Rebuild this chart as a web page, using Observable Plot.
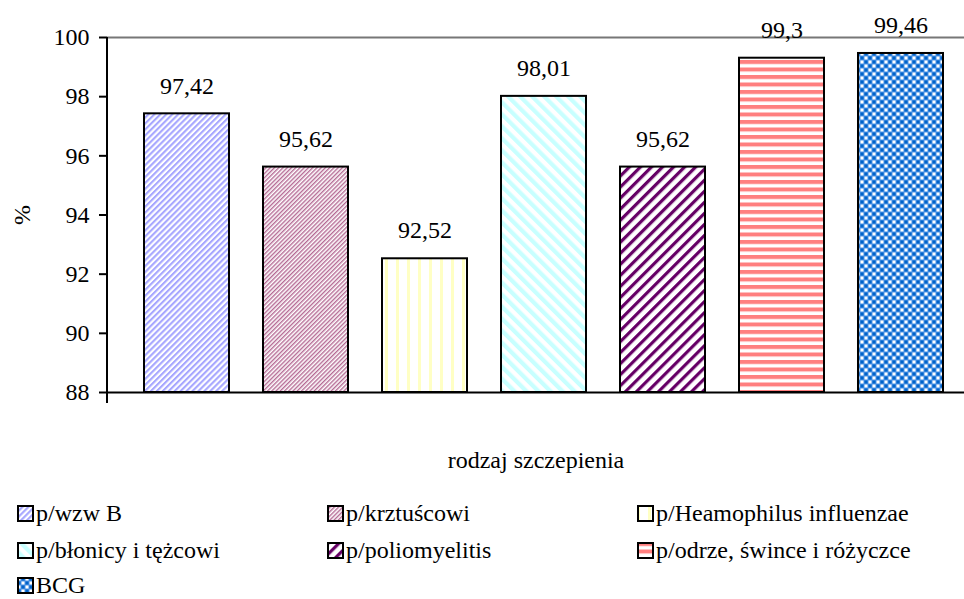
<!DOCTYPE html>
<html>
<head>
<meta charset="utf-8">
<script src="https://cdn.jsdelivr.net/npm/d3@7"></script>
<script src="https://cdn.jsdelivr.net/npm/@observablehq/plot@0.6"></script>
<style>
  body { margin: 0; background: #fff; font-family: "Liberation Serif", "Times New Roman", Times, "DejaVu Serif", serif; }
  #wrap { position: relative; width: 964px; height: 599px; overflow: hidden; }
  #legend { position: absolute; left: 0; top: 0; width: 964px; height: 599px; pointer-events: none; }
  .li { position: absolute; font-size: 24px; line-height: 20px; height: 20px; color: #000; white-space: nowrap; font-family: inherit; }
  svg text { font-family: "Liberation Serif", "Times New Roman", Times, "DejaVu Serif", serif; }
</style>
</head>
<body>
<div id="wrap"></div>
<script>
// ---- data ----
const categories = ["p/wzw B", "p/krztuścowi", "p/Heamophilus influenzae", "p/błonicy i tężcowi", "p/poliomyelitis", "p/odrze, śwince i różyczce", "BCG"];
const values = [97.42, 95.62, 92.52, 98.01, 95.62, 99.3, 99.46];
const valueLabels = ["97,42", "95,62", "92,52", "98,01", "95,62", "99,3", "99,46"];
const yTicks = [88, 90, 92, 94, 96, 98, 100];
const yLabel = "%";
const xLabel = "rodzaj szczepienia";

const data = categories.map((c, i) => ({cat: c, value: values[i], label: valueLabels[i], pat: `url(#pat${i})`}));
const FONT = "'Liberation Serif', 'Times New Roman', Times, 'DejaVu Serif', serif";

const chart = Plot.plot({
  width: 964,
  height: 480,
  marginTop: 37,
  marginBottom: 88,
  marginLeft: 107,
  marginRight: 0,
  style: {fontFamily: FONT, fontSize: "24px", color: "#000", background: "#fff", overflow: "visible"},
  x: {domain: categories, range: [108.7, 978.3], padding: 0.2877, axis: null},
  y: {domain: [88, 100], axis: null},
  color: {type: "identity"},
  marks: [
    Plot.ruleY(yTicks.filter(t => t > 88 && t < 100), {x1: 107, x2: 964, stroke: "#000", strokeWidth: 2, x: null}),
    Plot.ruleY([100], {stroke: "#777", strokeWidth: 2}),
    Plot.barY(data, {x: "cat", y1: 88, y2: "value", fill: "pat", stroke: "#000", strokeWidth: 2}),
    Plot.ruleY([88], {stroke: "#000", strokeWidth: 2}),
    Plot.axisY({ticks: yTicks, tickSize: 8, tickPadding: 10, tickFormat: d => String(d), fontSize: 24, strokeWidth: 2, label: null}),
    Plot.text(data, {x: "cat", y: "value", text: "label", dy: -28, fontSize: 24, fill: "#000"}),
  ]
});

const svg = d3.select(chart);
svg.append("line").attr("x1", 107).attr("x2", 107).attr("y1", 37).attr("y2", 403).attr("stroke", "#000").attr("stroke-width", 2);
svg.append("text").attr("transform", "translate(24,215) rotate(-90)").attr("text-anchor", "middle")
  .attr("dominant-baseline", "middle").attr("font-size", 24).text(yLabel);
svg.append("text").attr("x", 536).attr("y", 462).attr("text-anchor", "middle")
  .attr("dominant-baseline", "middle").attr("font-size", 24).text(xLabel);

// patterns
const defs = svg.insert("defs", ":first-child");
function stripes(id, color, period, width, angle) {
  const p = defs.append("pattern").attr("id", id).attr("patternUnits", "userSpaceOnUse")
    .attr("width", period).attr("height", period).attr("patternTransform", `rotate(${angle})`);
  p.append("rect").attr("width", period).attr("height", period).attr("fill", "#fff");
  p.append("rect").attr("width", width).attr("height", period).attr("fill", color);
}
stripes("pat0", "#a6a6ff", 4.2, 2.1, 45);
stripes("pat1", "#b56a94", 3.0, 1.4, 45);
stripes("pat2", "#ffffc4", 11, 3, 0);
stripes("pat3", "#c8ffff", 8.5, 4.2, -45);
stripes("pat4", "#660066", 7.8, 3.2, 45);
stripes("pat5", "#ff7f7f", 7.5, 4, 90);
{
  const p = defs.append("pattern").attr("id", "pat6").attr("patternUnits", "userSpaceOnUse").attr("width", 8).attr("height", 8);
  p.append("rect").attr("width", 8).attr("height", 8).attr("fill", "#4d94e6");
  p.append("rect").attr("x", 0.5).attr("y", 0.5).attr("width", 3).attr("height", 3).attr("fill", "#fff");
  p.append("rect").attr("x", 4.5).attr("y", 4.5).attr("width", 3).attr("height", 3).attr("fill", "#fff");
  p.append("rect").attr("x", 4.5).attr("y", 0.5).attr("width", 3).attr("height", 3).attr("fill", "#0062c8");
  p.append("rect").attr("x", 0.5).attr("y", 4.5).attr("width", 3).attr("height", 3).attr("fill", "#0062c8");
}

const wrap = document.getElementById("wrap");
wrap.appendChild(chart);

const legend = document.createElement("div");
legend.id = "legend";
wrap.appendChild(legend);
const colX = [17, 327, 637];
const rowY = [503, 540, 575];
categories.forEach((c, i) => {
  const col = i % 3, row = Math.floor(i / 3);
  const item = document.createElement("div");
  item.className = "li";
  item.style.left = colX[col] + "px";
  item.style.top = rowY[row] + "px";
  item.innerHTML = `<svg width="17" height="17" style="position:absolute;left:0;top:2px"><rect x="1" y="1" width="15" height="15" fill="url(#pat${i})" stroke="#000" stroke-width="2"/></svg><span style="position:absolute;left:19px;top:0">${c}</span>`;
  legend.appendChild(item);
});
</script>
</body>
</html>
